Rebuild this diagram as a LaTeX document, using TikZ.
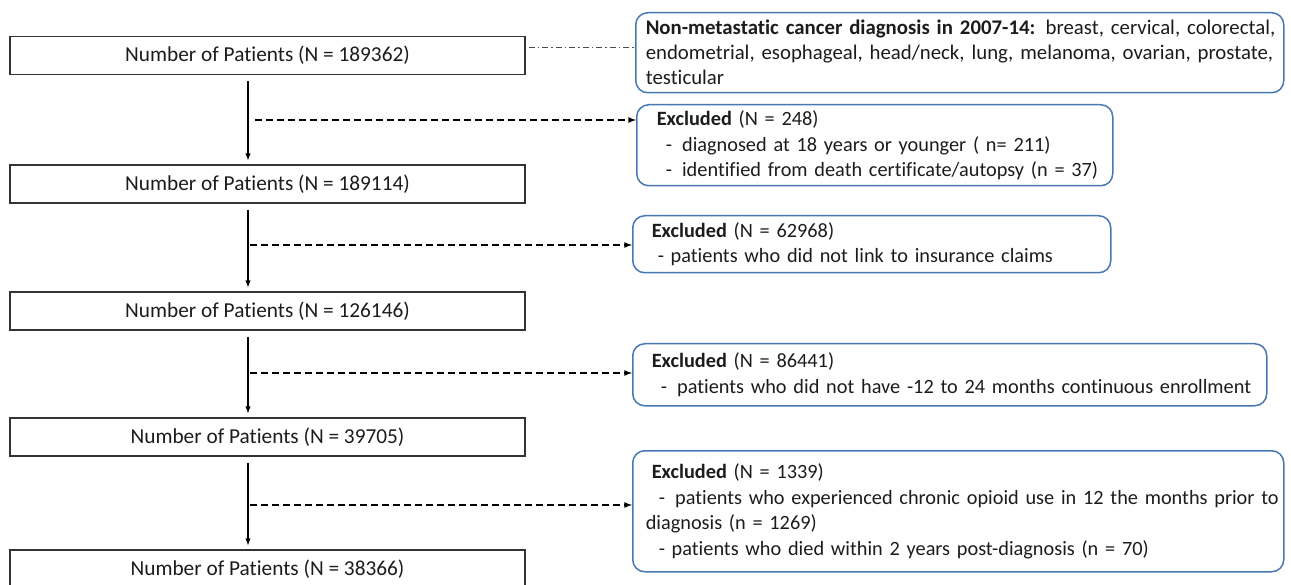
\documentclass[tikz,border=0pt]{standalone}
\usepackage{fontspec}
\setmainfont{Carlito}[Ligatures={NoCommon}]
\usepackage{xcolor}
\usetikzlibrary{calc, positioning}

\definecolor{boxblue}{RGB}{72,120,178}
\definecolor{inkgray}{RGB}{28,28,28}

\begin{document}
\begin{tikzpicture}[>=latex, x=1pt, y=-1pt, inkgray,
    patbox/.style={draw=black!80, line width=1.3pt, minimum width=515pt, minimum height=38pt, inner sep=0pt, font=\fontsize{21.3}{25}\selectfont},
    exclbox/.style={draw=boxblue, line width=1.5pt, rounded corners=12pt, anchor=north west, align=left, inner xsep=8pt, inner ysep=0pt, font=\fontsize{20.3}{25.5}\selectfont},
    flow/.style={->, black, line width=1.4pt, shorten <=6pt, shorten >=4pt},
    exclline/.style={->, black, line width=1.6pt, dash pattern=on 7pt off 4pt}]
    % 0. Khung hình
    \clip (0,0) rectangle (1291,585);

    % 1. Các hộp số bệnh nhân bên trái
    \node[patbox] (p1) at (267.5,55.5) {Number of Patients (N = 189362)};
    \node[patbox] (p2) at (267.5,184) {Number of Patients (N = 189114)};
    \node[patbox] (p3) at (267.5,311) {Number of Patients (N = 126146)};
    \node[patbox] (p4) at (267.5,437) {Number of Patients (N = 39705)};
    \node[patbox] (p5) at (267.5,569) {Number of Patients (N = 38366)};

    % 2. Các hộp bên phải (viền xanh, bo góc)
    \node[exclbox, text width=632pt, minimum height=80pt, font=\fontsize{20.8}{25}\selectfont] (r0) at (635,12)
        {\mbox{\hspace*{2pt}\textbf{Non-metastatic cancer diagnosis in 2007-14:} breast, cervical, colorectal,}\\
         \mbox{\hspace*{2pt}endometrial, esophageal, head/neck, lung, melanoma, ovarian, prostate,}\\
         \mbox{\hspace*{2pt}testicular}};
    \node[exclbox, text width=460pt, minimum height=81pt] (r1) at (636,104)
        {\mbox{\hspace*{12pt}\textbf{Excluded} (N = 248)}\\
         \mbox{\hspace*{21pt}-\ \,diagnosed at 18 years or younger ( n= 211)}\\
         \mbox{\hspace*{21pt}-\ \,identified from death certificate/autopsy (n = 37)}};
    \node[exclbox, text width=462pt, minimum height=57pt] (r2) at (632,215)
        {\mbox{\hspace*{11pt}\textbf{Excluded} (N = 62968)}\\
         \mbox{\hspace*{17pt}- patients who did not link to insurance claims}};
    \node[exclbox, text width=618pt, minimum height=62pt] (r3) at (632,343)
        {\mbox{\hspace*{11pt}\textbf{Excluded} (N = 86441)}\\
         \mbox{\hspace*{20pt}-\ \,patients who did not have -12 to 24 months continuous enrollment}};
    \node[exclbox, text width=635pt, minimum height=121pt] (r4) at (632,450)
        {\mbox{\hspace*{11pt}\textbf{Excluded} (N = 1339)}\\
         \mbox{\hspace*{18pt}-\ \,patients who experienced chronic opioid use in 12 the months prior to}\\
         \mbox{\hspace*{5pt}diagnosis (n = 1269)}\\
         \mbox{\hspace*{18pt}- patients who died within 2 years post-diagnosis (n = 70)}};

    % 3. Mũi tên dọc giữa các hộp
    \coordinate (ax) at (248,0);
    \draw[flow] (p1.south -| ax) -- (p2.north -| ax);
    \draw[flow] (p2.south -| ax) -- (p3.north -| ax);
    \draw[flow] (p3.south -| ax) -- (p4.north -| ax);
    \draw[flow] (p4.south -| ax) -- (p5.north -| ax);

    % 4. Mũi tên nét đứt sang các hộp loại trừ
    \coordinate (d1) at (255,120);
    \coordinate (d2) at (250,245);
    \coordinate (d3) at (250,373);
    \coordinate (d4) at (250,505);
    \draw[exclline] (d1) -- (d1 -| r1.west);
    \draw[exclline] (d2) -- (d2 -| r2.west);
    \draw[exclline] (d3) -- (d3 -| r3.west);
    \draw[exclline] (d4) -- (d4 -| r4.west);

    % 5. Đường chấm gạch từ hộp đầu tiên
    \coordinate (c0) at (p1.east |- 0,47);
    \draw[black!70, line width=0.9pt, dash pattern=on 6pt off 3pt on 1.5pt off 3pt, shorten <=3pt]
        (c0) -- (c0 -| r0.west);
\end{tikzpicture}
\end{document}
